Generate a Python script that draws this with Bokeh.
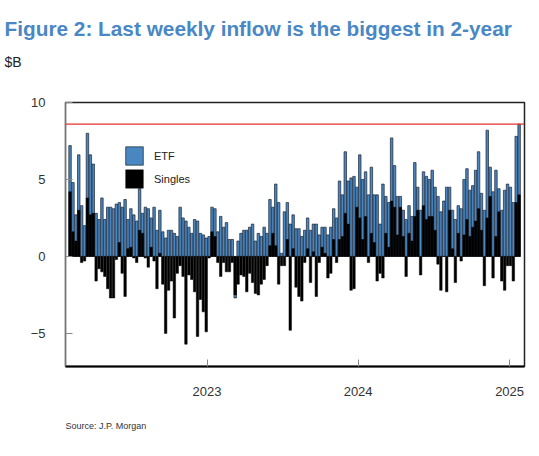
import pandas as pd
from bokeh.plotting import figure
from bokeh.models import (Range1d, Span, Title, Legend, LegendItem, FixedTicker,
                          DatetimeTickFormatter)
from bokeh.embed import file_html
from bokeh.resources import INLINE

# weekly flows, $B
weeks = pd.date_range("2022-02-04", periods=156, freq="7D")

etf = [7.2, 4.8, 2.7, 6.6, 3.3, 2.0, 8.0, 6.6, 6.0, 2.8,
       2.4, 3.8, 2.4, 3.2, 3.2, 3.1, 3.4, 3.5, 3.2, 3.7,
       2.4, 3.1, 2.7, 2.3, 4.4, 2.8, 3.2, 3.1, 2.5, 3.2,
       1.7, 3.0, 1.6, 1.2, 1.7, 1.7, 1.5, 1.3, 3.2, 2.5,
       2.3, 1.9, 1.5, 2.4, 2.3, 1.5, 1.4, 1.2, 1.3, 3.2,
       3.1, 1.6, 2.6, 1.9, 2.2, 1.1, 1.1, -2.7, 1.0, 1.5,
       1.7, 1.7, 1.9, 2.1, 1.0, 1.5, 1.3, 1.9, 1.5, 3.7,
       3.2, 4.7, 3.5, 0.2, 2.9, 3.5, 2.1, 2.7, 1.8, 1.8,
       1.3, 1.7, 2.5, 1.7, 2.1, 2.1, 1.4, 1.9, 1.9, 1.4,
       1.9, 3.1, 2.5, 4.9, 4.0, 6.8, 4.9, 5.1, 5.2, 4.5,
       6.6, 5.0, 5.5, 4.0, 5.8, 4.0, 4.0, 2.1, 4.7, 3.9,
       3.5, 7.7, 5.9, 3.9, 3.9, 3.0, 2.4, 3.3, 2.6, 6.1,
       4.5, 3.0, 5.5, 5.2, 5.0, 5.6, 4.5, 3.9, 2.9, 3.6,
       4.5, 4.5, 3.0, 2.4, 3.3, 3.1, 5.0, 5.7, 4.3, 4.6,
       5.6, 6.8, 4.1, 3.0, 8.2, 5.8, 4.2, 5.6, 4.4, 3.0,
       4.3, 4.7, 4.5, 3.5, 7.8, 8.6]

singles = [4.2, 1.6, 1.0, 3.0, -0.4, -0.3, 3.8, 2.7, 2.8, -1.6,
           -0.8, -1.0, -1.3, -2.1, -2.7, -2.7, -0.2, 0.9, -1.1, -2.6,
           0.5, 0.6, -0.1, -0.4, 1.7, 1.5, -0.1, -0.7, 0.6, -0.3,
           -2.1, 0.2, -1.8, -5.0, -2.2, -1.6, -4.0, -1.1, -0.6, -1.3,
           -5.7, -1.2, -1.5, -2.3, -5.2, -2.8, -3.6, -4.9, -0.1, 1.6,
           1.3, -0.4, -1.3, -0.4, -1.0, -1.0, -0.4, -2.5, -1.8, -1.2,
           -1.3, -2.3, -1.1, -1.7, -2.4, -2.5, -1.8, -1.5, -0.6, 0.7,
           1.5, 0.7, -1.8, -0.6, -0.6, 1.1, -4.8, 0.5, -2.0, -2.6,
           -2.9, -0.4, 0.5, -1.7, 0.3, -2.6, -0.4, 0.6, 0.2, -1.4,
           -1.1, 1.1, -0.4, 1.1, 1.3, 2.8, 2.1, -2.2, -2.1, 3.2,
           2.5, 1.1, 2.6, -0.4, 1.5, 0.9, -1.6, -1.1, -1.4, 1.5,
           0.6, 3.6, 3.2, 1.4, 3.2, 1.3, -1.3, 1.5, 1.0, 2.6,
           3.0, -1.2, 3.3, 2.4, 2.6, 2.6, 1.7, -0.5, -2.2, 0.0,
           -2.3, 3.0, 0.5, -1.7, 1.5, -0.3, 1.4, 2.4, 1.3, 1.9,
           2.3, 3.1, 1.7, -1.9, 2.5, 3.9, -1.4, 1.3, 2.9, -1.6,
           -2.2, -0.6, -0.6, -1.6, 3.5, 4.0]

year_ticks = ["2023-01-01", "2024-01-01", "2025-01-01"]
y_ticks = [-5, 0, 5, 10]
last_level = 8.6

p = figure(width=535, height=454, x_axis_type="datetime",
           x_range=Range1d(pd.Timestamp("2022-01-24"), pd.Timestamp("2025-02-06")),
           y_range=Range1d(-7.15, 10),
           output_backend="svg", toolbar_location=None,
           min_border_left=65, min_border_right=11,
           min_border_top=102, min_border_bottom=88)

bar_w = 6 * 24 * 3600 * 1000
r_etf = p.vbar(x=weeks, top=etf, width=bar_w, fill_color="#4a86c0",
               line_color="#1b2533", line_width=0.7)
r_sing = p.vbar(x=weeks, top=singles, width=bar_w, fill_color="black",
                line_color="black", line_width=0.5)

p.add_layout(Span(location=last_level, dimension="width",
                  line_color="#e8302a", line_width=1.2))

legend = Legend(items=[LegendItem(label="ETF", renderers=[r_etf]),
                       LegendItem(label="Singles", renderers=[r_sing])],
                location=(58, 176), orientation="vertical",
                glyph_width=22, glyph_height=23, spacing=0,
                padding=0, margin=0, label_standoff=9,
                label_text_font="Liberation Sans", label_text_font_size="11px",
                label_text_color="#222222",
                border_line_alpha=0, background_fill_alpha=0)
p.add_layout(legend)

# axes
p.xaxis.ticker = FixedTicker(ticks=[pd.Timestamp(t).timestamp() * 1000 for t in year_ticks])
p.xaxis.formatter = DatetimeTickFormatter(years="%Y", months="%Y", days="%Y",
                                          hours="%Y", minutes="%Y")
p.yaxis.ticker = FixedTicker(ticks=y_ticks)
for ax in (p.xaxis, p.yaxis):
    ax.major_tick_in = 7
    ax.major_tick_out = 0
    ax.minor_tick_line_color = None
    ax.major_tick_line_color = "#888888"
    ax.major_label_standoff = 20
    ax.major_label_text_font = "Liberation Sans"
    ax.major_label_text_font_size = "13px"
    ax.major_label_text_color = "#333333"
p.yaxis.axis_line_color = "#777777"
p.xaxis.axis_line_color = "black"
p.xaxis.axis_line_width = 2
p.xgrid.visible = False
p.ygrid.visible = False
p.outline_line_color = "#222222"
p.outline_line_width = 1.5

# texts above the frame, stacked outward: gap, unit, heading
p.add_layout(Title(text=" ", standoff=28, text_font_size="1px"), "above")
p.add_layout(Title(text="$B", align="left", offset=-61, standoff=4,
                   text_font="Liberation Sans", text_font_size="14px",
                   text_font_style="normal", text_color="#222222"), "above")
p.add_layout(Title(text="Figure 2: Last weekly inflow is the biggest in 2-year",
                   align="left", offset=-61, standoff=20,
                   text_font="Liberation Sans", text_font_size="20.8px",
                   text_font_style="bold", text_color="#4a87c5"), "above")
p.add_layout(Title(text="Source: J.P. Morgan", align="left", offset=0, standoff=40,
                   text_font="Liberation Sans", text_font_size="9px",
                   text_font_style="normal", text_color="#333333"), "below")

open("out.html", "w").write(file_html(p, INLINE))
